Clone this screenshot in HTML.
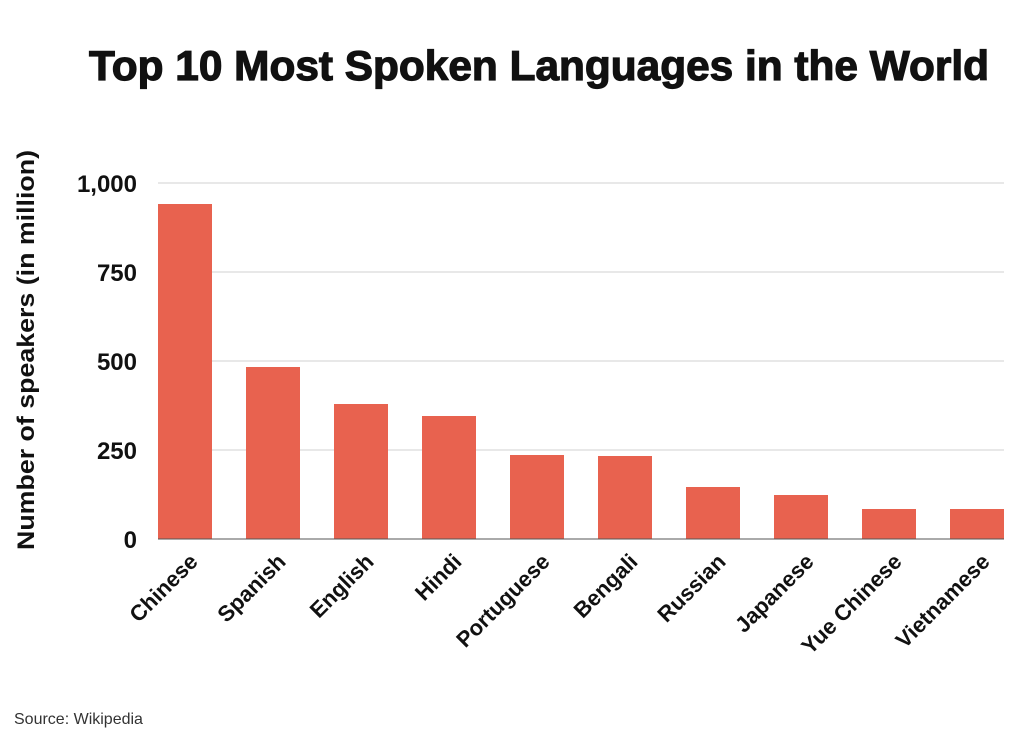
<!DOCTYPE html>
<html><head><style>body{margin:0;background:#fff}</style></head><body>
<svg width="1024" height="746" xmlns="http://www.w3.org/2000/svg" font-family="Liberation Sans, sans-serif">
<rect width="1024" height="746" fill="#fff"/>
<text x="539" y="80" text-anchor="middle" font-size="42" font-weight="bold" fill="#111" stroke="#111" stroke-width="1.2" textLength="900" lengthAdjust="spacingAndGlyphs">Top 10 Most Spoken Languages in the World</text>
<g stroke="#d0d0d0" stroke-width="1">
<line x1="158" y1="183" x2="1004" y2="183"/><line x1="158" y1="272" x2="1004" y2="272"/>
<line x1="158" y1="361" x2="1004" y2="361"/><line x1="158" y1="450" x2="1004" y2="450"/>
</g>
<g font-size="24" font-weight="bold" fill="#111" text-anchor="end">
<text x="137" y="192">1,000</text><text x="137" y="281">750</text><text x="137" y="370">500</text><text x="137" y="459">250</text><text x="137" y="548">0</text>
</g>
<text transform="translate(34,350) rotate(-90)" text-anchor="middle" font-size="24" font-weight="bold" fill="#111" textLength="400" lengthAdjust="spacingAndGlyphs">Number of speakers (in million)</text>
<g fill="#e8624f">
<rect x="158" y="204" width="54" height="335"/>
<rect x="246" y="367" width="54" height="172"/>
<rect x="334" y="404" width="54" height="135"/>
<rect x="422" y="416" width="54" height="123"/>
<rect x="510" y="455" width="54" height="84"/>
<rect x="598" y="456" width="54" height="83"/>
<rect x="686" y="487" width="54" height="52"/>
<rect x="774" y="495" width="54" height="44"/>
<rect x="862" y="509" width="54" height="30"/>
<rect x="950" y="509" width="54" height="30"/>
</g>
<line x1="158" y1="539" x2="1004" y2="539" stroke="#555" stroke-width="1"/>
<g font-size="22" font-weight="bold" fill="#111" text-anchor="end">
<text transform="translate(199,563) rotate(-45)">Chinese</text>
<text transform="translate(287,563) rotate(-45)">Spanish</text>
<text transform="translate(375,563) rotate(-45)">English</text>
<text transform="translate(463,563) rotate(-45)">Hindi</text>
<text transform="translate(551,563) rotate(-45)">Portuguese</text>
<text transform="translate(639,563) rotate(-45)">Bengali</text>
<text transform="translate(727,563) rotate(-45)">Russian</text>
<text transform="translate(815,563) rotate(-45)">Japanese</text>
<text transform="translate(903,563) rotate(-45)">Yue Chinese</text>
<text transform="translate(991,563) rotate(-45)">Vietnamese</text>
</g>
<text x="14" y="724" font-size="16" fill="#333">Source: Wikipedia</text>
</svg>
</body></html>
